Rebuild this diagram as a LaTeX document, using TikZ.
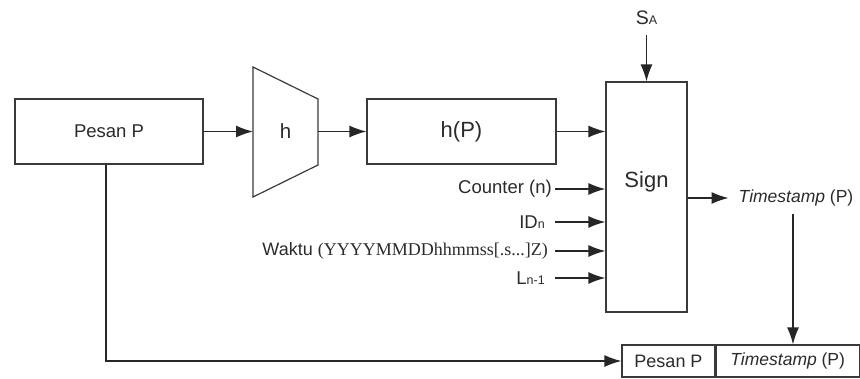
\documentclass[tikz,border=0pt]{standalone}
\usepackage{fontspec}
\setmainfont{Liberation Sans}
\newfontfamily\serifwaktu{Liberation Serif}
\usepackage{xcolor}
\definecolor{garis}{HTML}{3A3A3A}
\definecolor{teks}{HTML}{2B2B2B}
\usetikzlibrary{arrows.meta,positioning,calc}
\newcommand{\kecil}[1]{{\fontsize{12.5}{12}\selectfont #1}}

\begin{document}
\begin{tikzpicture}[x=1pt,y=-1pt,
  kotak/.style={draw=garis,line width=1.2pt,fill=white,inner sep=0pt,
    font=\fontsize{18.5}{21}\selectfont,text=teks},
  lbl/.style={inner sep=0pt,font=\fontsize{18.5}{21}\selectfont,text=teks},
  arr/.style={-{Latex[length=17pt,width=12pt]},line width=1.3pt,draw=black!85}]
  \useasboundingbox (0,0) rectangle (860,378);
  \node[kotak,minimum width=188pt,minimum height=65pt] (pesan) at (109,131.5) {Pesan P};
  \draw[draw=garis,line width=1.2pt] (253,67) -- (318,99) -- (318,165) -- (253,197) -- cycle;
  \node[lbl,font=\fontsize{20.5}{23}\selectfont] (h) at (285.5,131.5) {h};
  \coordinate (hin) at (253,131.5);
  \coordinate (hout) at (318,131.5);
  \node[kotak,minimum width=189pt,minimum height=65pt,font=\fontsize{22}{25}\selectfont] (hp) at (461.5,131.5) {h(P)};
  \node[kotak,minimum width=81pt,minimum height=230pt] (sign) at (646.5,197) {};
  \node[lbl,font=\fontsize{22}{25}\selectfont] (signtxt) at (646.5,182) {Sign};
  \node[lbl,font=\fontsize{19.5}{22}\selectfont] (sa) at (646.5,18) {S\kecil{A}};
  \node[lbl,anchor=east] (cnt) at (552,189) {Counter (n)};
  \node[lbl,anchor=east] (idn) at (545,222) {ID\kecil{n}};
  \node[lbl,anchor=east,font=\fontsize{18}{21}\selectfont] (wkt) at (548,251) {Waktu {\serifwaktu (YYYYMMDDhhmmss[.s...]Z)}};
  \node[lbl,anchor=east] (lnm) at (545,278) {L\kecil{n-1}};
  \node[lbl,inner xsep=10pt,inner ysep=8pt,font=\fontsize{17.5}{21}\selectfont] (ts) at (796,198) {\textit{Timestamp} (P)};
  \node[kotak,minimum width=93pt,minimum height=32pt,font=\fontsize{18}{21}\selectfont] (bp) at (668.5,361) {Pesan P};
  \node[kotak,minimum width=143pt,minimum height=32pt,anchor=west,font=\fontsize{17.5}{21}\selectfont] (bts) at (bp.east) {\textit{Timestamp} (P)};
  \draw[arr] (pesan.east) -- (hin);
  \draw[arr] (hout) -- (hp.west);
  \draw[arr] (hp.east) -- (hp.east -| sign.west);
  \draw[arr] ([yshift=-10pt]sa.south) -- (sign.north);
  \draw[arr] ([xshift=3pt]cnt.east) -- (cnt.east -| sign.west);
  \draw[arr] ([xshift=10pt]idn.east) -- (idn.east -| sign.west);
  \draw[arr] ([xshift=7pt]wkt.east) -- (wkt.east -| sign.west);
  \draw[arr] ([xshift=10pt]lnm.east) -- (lnm.east -| sign.west);
  \draw[arr] (sign.east |- ts.west) -- (ts.west);
  \draw[arr] ([xshift=-3pt]ts.south) -- ([xshift=-3pt]ts.south |- bts.north);
  \draw[arr] ([xshift=-3pt]pesan.south) |- (bp.west);
\end{tikzpicture}
\end{document}
